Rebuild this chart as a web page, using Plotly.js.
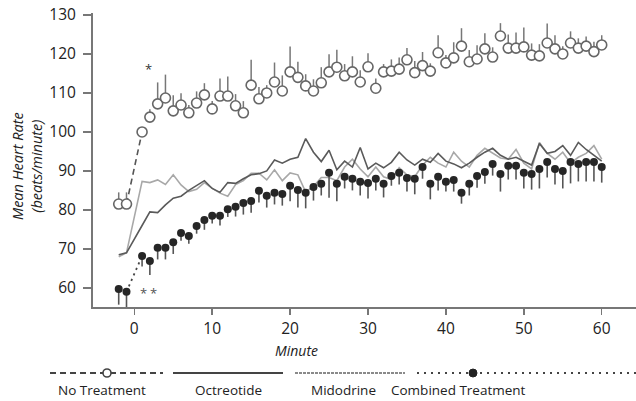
<!DOCTYPE html>
<html>
<head>
<meta charset="utf-8">
<script src="https://cdn.plot.ly/plotly-3.0.1.min.js"></script>
<style>html,body{margin:0;padding:0;background:#fff;}#chart{width:636px;height:401px;}</style>
</head>
<body>
<div id="chart"></div>
<script>
// Minutes relative to treatment (no sample at minute 0)
const minutes = [-2,-1,1,2,3,4,5,6,7,8,9,10,11,12,13,14,15,16,17,18,19,20,21,22,23,24,25,26,27,28,29,30,31,32,33,34,35,36,37,38,39,40,41,42,43,44,45,46,47,48,49,50,51,52,53,54,55,56,57,58,59,60];

// No Treatment (open circles) mean and upward SE
const noTreatment = [81.5,81.5,100,103.8,107.2,108.7,105.4,106.9,104.9,107.4,109.5,105.9,109.2,109.2,106.7,104.9,112,108.5,110,112.8,110.5,115.4,114,111.8,110.5,112.6,115.4,116.6,114.4,115.4,112.8,116.7,111.2,115.4,115.6,116.1,118.5,115.2,117,115.6,120.3,117.7,119,122,118,118.7,121.3,119.2,124.6,121.5,121.5,121.8,119.7,119.5,122.8,121.3,120,122.8,121.5,122,120.6,122.3];
const noTreatmentErr = [3,3,0,2,5.5,6,4,3,2,3,3,2,4.5,5,3,3,6.5,3,2,5,4,6.5,4,3,3,4,4.5,4.5,3,4,3,3.5,2.5,2,3,3,3,3,3.5,2,4.5,2,4,4.6,3,3.5,4,2.5,3.3,3.5,4,5,3,3,5,3.5,2,3,2.5,2.5,2.5,2.5];

// Octreotide (dark grey line)
const octreotide = [68.5,69,76,79.5,79.3,81.3,83,83.5,85,86.2,87.5,85.5,84.5,87,86.8,88,89,89.3,90,92.8,92,93,93.5,98.3,94.8,92.4,95.3,90.3,92.5,91,96,90.5,92,90.8,92.2,94.8,92.8,91.5,93,92.2,94.5,92.5,91.8,90.8,92,93.5,94.8,95.8,94,93,93.5,92.5,91.5,97,94.5,95,96.5,94,97.3,95.5,94,92.5];

// Midodrine (light grey line)
const midodrine = [68,69,87.3,87,87.7,86.5,89,86.4,84.7,85.3,87,85.5,84.3,83.5,86.5,87.5,89.4,89.4,87.7,90.3,87.5,89.5,89,84.6,86,88.3,88.3,87.5,91,93,90.5,88.5,91,88.5,87.8,90.8,89,88.5,91.5,93.5,92,91,94.8,92.5,91,94,95.8,94.5,93.3,93,95.5,92,90.5,97.3,94.5,93,94.8,92,93.5,94.5,96.5,93];

// Combined Treatment (filled circles) mean and downward SE
const combined = [59.7,59,68.2,66.9,70.3,70.3,71.7,74.1,73.3,75.9,77.4,78.5,78.5,80.2,80.8,81.8,82.3,84.9,83.6,84.4,84.1,86.2,85.1,84.4,85.9,86.7,89.5,86.7,88.5,88,87.2,86.9,88,86.7,88.7,89.5,88.2,88,91,86.7,88.5,87.2,87.7,84.4,86.7,88.7,89.7,91.8,89.2,91.3,91.3,89.5,89.2,90.5,92.3,90.5,90,92.3,91.8,92.3,92.3,91];
const combinedErr = [4,4,2.7,3.6,3,3,3,2,2,2,2.5,2,2.5,2,2.5,3,3,3,3,3,3,4,4.5,4,3.5,3,6.4,4.5,3,3,3.5,4,3,3.5,2.5,3,3.5,4,3,4,3.5,2.5,3,2.8,3,3,3,3,4.5,3.5,3.5,4,4,5,4,4,4.5,5.5,4.5,5,5,4];

const yTicks = [60,70,80,90,100,110,120,130];
const xTicks = [0,10,20,30,40,50,60];
const seriesNames = ['No Treatment','Octreotide','Midodrine','Combined Treatment'];

const zeros = minutes.map(() => 0);
const FONT = 'Open Sans, Noto Sans, sans-serif';

const traces = [
  { // dashed connector for No Treatment across minute 0
    x: [minutes[1], minutes[2]], y: [noTreatment[1], noTreatment[2]],
    mode: 'lines', line: {color: '#555', width: 1.6, dash: '6px,4px'}, hoverinfo: 'skip'
  },
  { // dotted connector for Combined
    x: [minutes[1], minutes[2]], y: [combined[1], combined[2]],
    mode: 'lines', line: {color: '#444', width: 1.8, dash: '2px,4px'}, hoverinfo: 'skip'
  },
  {
    name: seriesNames[2], x: minutes, y: midodrine, mode: 'lines',
    line: {color: '#a8a8a8', width: 1.6}
  },
  {
    name: seriesNames[1], x: minutes, y: octreotide, mode: 'lines',
    line: {color: '#5a5a5a', width: 1.6}
  },
  {
    name: seriesNames[0], x: minutes, y: noTreatment, mode: 'markers',
    marker: {symbol: 'circle', size: 10, color: '#fff', line: {color: '#666', width: 1.6}},
    error_y: {type: 'data', symmetric: false, array: noTreatmentErr, arrayminus: zeros, width: 0, thickness: 1.5, color: '#777'}
  },
  {
    name: seriesNames[3], x: minutes, y: combined, mode: 'markers',
    marker: {symbol: 'circle', size: 8, color: '#262626'},
    error_y: {type: 'data', symmetric: false, array: zeros, arrayminus: combinedErr, width: 0, thickness: 1.6, color: '#555'}
  }
];

// paper coordinate helpers for legend (plot area: x 93..636, y 13..307 px)
const px = v => (v - 93) / 543;
const py = v => (307 - v) / 294;
const legY = py(373), txtY = py(390);

const shapes = [
  {type:'line', xref:'paper', yref:'paper', x0:px(50), x1:px(163), y0:legY, y1:legY, line:{color:'#444', width:1.8, dash:'6px,4px'}},
  {type:'circle', xref:'paper', yref:'paper', xsizemode:'pixel', ysizemode:'pixel', xanchor:px(107), yanchor:legY, x0:-4, x1:4, y0:-4, y1:4, fillcolor:'#fff', line:{color:'#444', width:1.6}},
  {type:'line', xref:'paper', yref:'paper', x0:px(173), x1:px(283), y0:legY, y1:legY, line:{color:'#444', width:2}},
  {type:'line', xref:'paper', yref:'paper', x0:px(295), x1:px(405), y0:legY, y1:legY, line:{color:'#8a8a8a', width:2, dash:'3px,1px'}},
  {type:'line', xref:'paper', yref:'paper', x0:px(417), x1:px(636), y0:legY, y1:legY, line:{color:'#444', width:2, dash:'2px,5px'}},
  {type:'circle', xref:'paper', yref:'paper', xsizemode:'pixel', ysizemode:'pixel', xanchor:px(473), yanchor:legY, x0:-4, x1:4, y0:-4, y1:4, fillcolor:'#222', line:{color:'#222', width:1}}
];

const legTextX = [102, 228, 343, 458];
const annotations = seriesNames.map((n, i) => ({
  text: n, xref:'paper', yref:'paper', x: px(legTextX[i]), y: txtY, showarrow:false,
  xanchor:'center', yanchor:'middle', font:{family:FONT, size:13.5, color:'#222'}
}));
annotations.push(
  {text:'<i>Minute</i>', xref:'paper', yref:'paper', x:px(296), y:py(350), showarrow:false, xanchor:'center', yanchor:'middle', font:{family:FONT, size:14, color:'#222'}},
  {text:'<i>Mean Heart Rate<br>(beats/minute)</i>', xref:'paper', yref:'paper', x:px(27), y:py(166), showarrow:false, textangle:-90, xanchor:'center', yanchor:'middle', font:{family:FONT, size:14.5, color:'#222'}},
  {text:'*', x:1.8, y:117.2, xref:'x', yref:'y', showarrow:false, yshift:-4, font:{family:FONT, size:13, color:'#333'}},
  {text:'*', x:1.2, y:59.8, xref:'x', yref:'y', showarrow:false, yshift:-4, font:{family:FONT, size:13, color:'#555'}},
  {text:'*', x:2.5, y:59.8, xref:'x', yref:'y', showarrow:false, yshift:-4, font:{family:FONT, size:13, color:'#555'}}
);

const layout = {
  width: 636, height: 401,
  margin: {l: 93, r: 0, t: 13, b: 94, pad: 0},
  paper_bgcolor: '#fff', plot_bgcolor: '#fff',
  showlegend: false,
  font: {family: FONT, size: 15, color: '#222'},
  xaxis: {
    range: [-5.3, 64.4], tickvals: xTicks, ticks: 'outside', ticklen: 6, tickwidth: 1.5, tickcolor: '#777',
    showline: true, linecolor: '#777', linewidth: 2, showgrid: false, zeroline: false,
    tickfont: {family: FONT, size: 15.5, color: '#222'}
  },
  yaxis: {
    range: [55.1, 130.5], tickvals: yTicks, ticks: 'outside', ticklen: 8, tickwidth: 1.5, tickcolor: '#777',
    showline: true, linecolor: '#777', linewidth: 2, showgrid: false, zeroline: false,
    ticklabelstandoff: 4,
    tickfont: {family: FONT, size: 15.5, color: '#222'}
  },
  shapes: shapes,
  annotations: annotations
};

Plotly.newPlot('chart', traces, layout, {displayModeBar: false, staticPlot: true});
</script>
</body>
</html>
